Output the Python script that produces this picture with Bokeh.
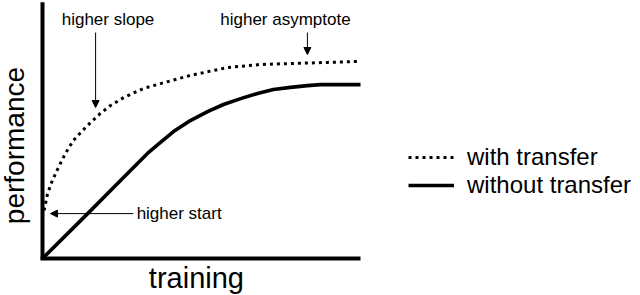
from math import pi
from bokeh.plotting import figure
from bokeh.models import Label, Arrow, NormalHead, Legend, LegendItem, Range1d
from bokeh.embed import file_html
from bokeh.resources import INLINE

# ---- data (training vs. performance, arbitrary units 0-100) ----
training_with = [0.5, 1.6, 3.1, 5.0, 7.2, 9.7, 12.6, 15.1, 18.2, 21.4, 25.5,
                 31.8, 37.1, 46.5, 58.2, 68.6, 78.9, 89.6, 100]
perf_with = [18.8, 25.5, 30.6, 35.7, 41.2, 46.3, 50.2, 53.3, 56.9, 60.0, 63.1,
             66.7, 68.6, 71.8, 74.9, 76.1, 76.5, 76.9, 77.3]

training_without = [0, 14.2, 23.6, 33.0, 37.1, 41.2, 46.5, 51.9, 56.9, 62.3,
                    67.6, 72.6, 78.0, 83.3, 87.4, 100]
perf_without = [0, 17.6, 29.4, 41.2, 45.5, 49.8, 54.1, 57.6, 60.4, 62.7,
                64.7, 66.3, 67.1, 67.8, 68.2, 68.2]

series_labels = ["with transfer", "without transfer"]
axis_x_title = "training"
axis_y_title = "performance"
annotations = ["higher slope", "higher asymptote", "higher start"]

FONT = "Liberation Sans"
INK = "#000000"

p = figure(width=640, height=295, output_backend="svg", toolbar_location=None,
           x_axis_type=None, y_axis_type=None, min_border=0,
           x_range=Range1d(-13.208, 188.05), y_range=Range1d(-14.51, 101.18))
p.outline_line_color = None
p.grid.visible = False
p.background_fill_color = "white"
p.border_fill_color = "white"

# axes lines
p.segment(x0=[0, -0.6], y0=[-0.5, 0], x1=[0, 100], y1=[100.5, 0],
          line_color=INK, line_width=4)

r_with = p.line(training_with, perf_with, line_color=INK, line_width=3,
                line_dash="3 4", line_cap="butt")
r_without = p.line(training_without, perf_without, line_color=INK, line_width=3.6,
                   line_join="round")

# arrows
head = lambda: NormalHead(size=7, fill_color=INK, line_color=INK, line_width=1)
p.add_layout(Arrow(end=head(), x_start=16.7, y_start=88.6, x_end=16.7, y_end=59.2,
                   line_color=INK, line_width=1))
p.add_layout(Arrow(end=head(), x_start=83.3, y_start=88.6, x_end=83.3, y_end=80.0,
                   line_color=INK, line_width=1))
p.add_layout(Arrow(end=head(), x_start=28.6, y_start=17.6, x_end=2.5, y_end=17.6,
                   line_color=INK, line_width=1))

def lab(text, x, y, size, align="center", baseline="middle", angle=0):
    p.add_layout(Label(x=x, y=y, text=text, text_font=FONT, text_font_size=size,
                       text_align=align, text_baseline=baseline, angle=angle,
                       text_color=INK))

lab(annotations[0], 20.6, 93.7, "17px")
lab(annotations[1], 76.4, 93.7, "17px")
lab(annotations[2], 29.6, 17.6, "17px", align="left")
lab(axis_x_title, 48.4, -7.8, "29px", baseline="alphabetic")
lab(axis_y_title, -8.9, 44.3, "28px", angle=pi / 2)

legend = Legend(items=[LegendItem(label=series_labels[0], renderers=[r_with]),
                       LegendItem(label=series_labels[1], renderers=[r_without])],
                location=(408, 96), glyph_width=46, glyph_height=20,
                label_standoff=13, padding=0, margin=0, spacing=0,
                label_text_font=FONT, label_text_font_size="24px",
                label_text_color=INK, border_line_alpha=0,
                background_fill_alpha=0)
p.add_layout(legend)

open("out.html", "w").write(file_html(p, INLINE))
